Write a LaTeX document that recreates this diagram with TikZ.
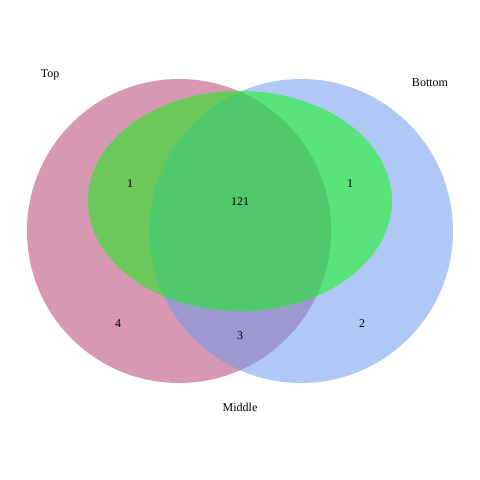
\documentclass[tikz,border=0pt]{standalone}
\usepackage{fontspec}
\setmainfont{Liberation Serif}
\definecolor{ponly}{RGB}{214,153,177}
\definecolor{bonly}{RGB}{176,200,245}
\definecolor{pb}{RGB}{158,152,208}
\definecolor{pg}{RGB}{108,200,90}
\definecolor{bg}{RGB}{88,228,122}
\definecolor{pbg}{RGB}{80,200,108}
\tikzset{lbl/.style={font=\fontsize{12}{14}\selectfont, text=black, inner sep=0pt}}
\begin{document}
\begin{tikzpicture}[x=1pt,y=-1pt]
\useasboundingbox (0,0) rectangle (480,480);
\def\circP{(179,231) circle[radius=152]}
\def\circB{(301,231) circle[radius=152]}
\def\ellG{(240,201) ellipse[x radius=152, y radius=110]}
\fill[ponly] \circP;
\fill[bonly] \circB;
\begin{scope}
  \clip \circP;
  \fill[pb] \circB;
\end{scope}
\begin{scope}
  \clip \ellG;
  \fill[bg] \ellG;
  \begin{scope}
    \clip \circP;
    \fill[pg] \ellG;
    \clip \circB;
    \fill[pbg] \ellG;
  \end{scope}
\end{scope}
\node[lbl] (top) at (50,75) {Top};
\node[lbl] (bottom) at (430,83) {Bottom};
\node[lbl] (middle) at (240,407) {Middle};
\node[lbl] (n1) at (130,184) {1};
\node[lbl] (n121) at (240,202) {121};
\node[lbl] (n1b) at (350,184) {1};
\node[lbl] (n4) at (118,324) {4};
\node[lbl] (n3) at (240,336) {3};
\node[lbl] (n2) at (362,324) {2};
\end{tikzpicture}
\end{document}
